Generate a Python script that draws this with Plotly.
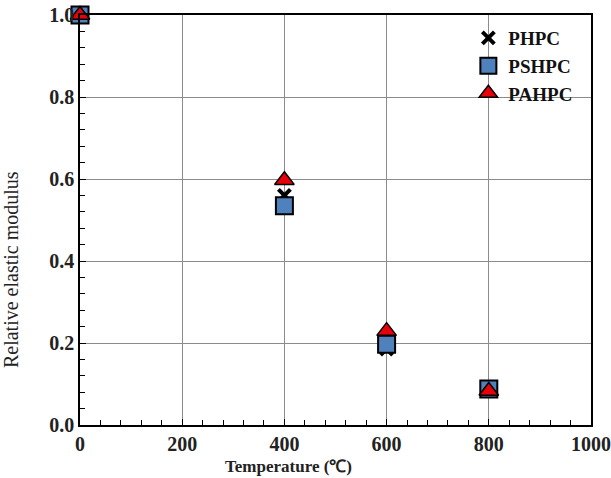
import plotly.graph_objects as go

temperature = [0, 400, 600, 800]
phpc = [1.0, 0.56, 0.185, 0.085]
pshpc = [1.0, 0.535, 0.197, 0.088]
pahpc = [1.0, 0.597, 0.229, 0.083]

x_ticks = [0, 200, 400, 600, 800, 1000]
y_ticks = [0.0, 0.2, 0.4, 0.6, 0.8, 1.0]

serif = "Liberation Serif, Times New Roman, serif"

fig = go.Figure()
fig.add_trace(go.Scatter(
    x=temperature, y=phpc, mode="markers", name="<b>PHPC</b>",
    marker=dict(symbol="x-thin", size=12, color="black",
                line=dict(color="black", width=4)),
    cliponaxis=False,
))
fig.add_trace(go.Scatter(
    x=temperature, y=pshpc, mode="markers", name="<b>PSHPC</b>",
    marker=dict(symbol="square", size=17, color="#4F81BD",
                line=dict(color="black", width=2)),
    cliponaxis=False,
))
fig.add_trace(go.Scatter(
    x=temperature, y=pahpc, mode="markers", name="<b>PAHPC</b>",
    marker=dict(symbol="triangle-up", size=17, color="#E8000B",
                line=dict(color="black", width=1.5)),
    cliponaxis=False,
))

fig.update_layout(
    width=611, height=478,
    margin=dict(l=80, r=20, t=15, b=53),
    plot_bgcolor="white", paper_bgcolor="white",
    font=dict(family=serif, color="#222", size=14),
    legend=dict(x=0.76, y=0.99, xanchor="left", yanchor="top",
                bgcolor="rgba(0,0,0,0)", font=dict(size=19, family=serif, color="#111"),
                itemwidth=30, tracegroupgap=0),
    showlegend=True,
    annotations=[
        dict(text="<b>Temperature (℃)</b>", xref="paper", yref="paper",
             x=0.409, y=-0.10, xanchor="center", yanchor="middle", showarrow=False,
             font=dict(size=17, family=serif, color="#222")),
        dict(text="Relative elastic modulus", xref="paper", yref="paper",
             x=-0.135, y=0.378, xanchor="center", yanchor="middle", showarrow=False,
             textangle=-90, font=dict(size=20, family=serif, color="#222")),
    ],
)
fig.update_xaxes(
    range=[0, 1000], tickvals=x_ticks, ticktext=[f"<b>{v}</b>" for v in x_ticks],
    automargin=False,
    showgrid=True, gridcolor="#8c8c8c", gridwidth=1,
    showline=True, linecolor="black", linewidth=1.5, mirror=True,
    ticks="inside", ticklen=6, tickcolor="black",
    minor=dict(dtick=40, ticks="inside", ticklen=5, tickcolor="black", showgrid=False),
    tickfont=dict(size=20, family=serif, color="#222"),
    zeroline=False,
)
fig.update_yaxes(
    range=[0, 1.0], tickvals=y_ticks, ticktext=[f"<b>{v:.1f}</b>" for v in y_ticks],
    automargin=False,
    showgrid=True, gridcolor="#8c8c8c", gridwidth=1,
    showline=True, linecolor="black", linewidth=1.5, mirror=True,
    ticks="inside", ticklen=6, tickcolor="black",
    minor=dict(dtick=0.04, ticks="inside", ticklen=5, tickcolor="black", showgrid=False),
    tickfont=dict(size=20, family=serif, color="#222"),
    zeroline=False,
)

fig.write_html("out.html")
